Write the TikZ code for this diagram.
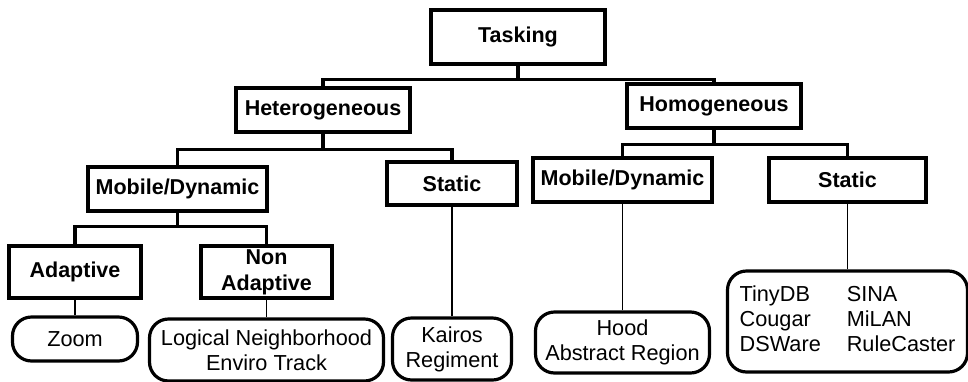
\documentclass[tikz,border=0pt]{standalone}
\usepackage{fontspec}
\setmainfont{Liberation Sans}

\begin{document}
\begin{tikzpicture}[x=1pt,y=-1pt]
  \tikzstyle{boite}=[draw, line width=3.2pt, inner sep=0, align=center, font=\fontsize{21.5}{26}\selectfont\bfseries];
  \tikzstyle{feuille}=[draw, line width=3.2pt, rounded corners=19pt, inner sep=0, align=center, font=\fontsize{21.7}{25}\selectfont];
  \tikzstyle{branche}=[line width=3.2pt];
  \tikzstyle{tige}=[line width=1.5pt];

  \useasboundingbox (0,0) rectangle (968,381);

  % niveaux du haut
  \node[boite, minimum width=174pt, minimum height=54pt] (tasking) at (518,37) {Tasking};
  \node[boite, minimum width=174pt, minimum height=44pt] (hetero) at (323,110) {Heterogeneous};
  \node[boite, minimum width=174pt, minimum height=44pt] (homo) at (714,106) {Homogeneous};

  \node[boite, minimum width=179pt, minimum height=44pt] (mobileA) at (177.5,189) {Mobile/Dynamic};
  \node[boite, minimum width=130pt, minimum height=43pt] (staticA) at (452,183.5) {Static};
  \node[boite, minimum width=179pt, minimum height=44pt] (mobileB) at (622.5,180) {Mobile/Dynamic};
  \node[boite, minimum width=157pt, minimum height=44pt] (staticB) at (847.5,180) {Static};

  \node[boite, minimum width=132pt, minimum height=52pt] (adapt) at (75,272) {Adaptive};
  \node[boite, minimum width=131pt, minimum height=52pt] (nonadapt) at (266.5,272) {Non\\Adaptive};

  % feuilles
  \node[feuille, minimum width=125pt, minimum height=44pt] (zoom) at (75,339) {Zoom};
  \node[feuille, minimum width=234pt, minimum height=62pt] (logical) at (266.5,350) {Logical Neighborhood\\Enviro Track};
  \node[feuille, minimum width=119pt, minimum height=62pt] (kairos) at (452,349) {Kairos\\Regiment};
  \node[feuille, minimum width=174pt, minimum height=61pt] (hood) at (622.5,342.5) {Hood\\Abstract Region};
  \node[feuille, minimum width=240pt, minimum height=101pt] (tinydb) at (847.5,321.5)
    {\begin{tabular}{@{}l@{\hspace{26pt}}l@{}}
      TinyDB & SINA\\
      Cougar & MiLAN\\
      DSWare & RuleCaster
    \end{tabular}};

  % branches
  \draw[branche] (tasking.south) -- ++(0,14) -| (hetero.north);
  \draw[branche] (tasking.south) -- ++(0,14) -| (homo.north);
  \draw[branche] (hetero.south) -- ++(0,16) -| (mobileA.north);
  \draw[branche] (hetero.south) -- ++(0,16) -| (staticA.north);
  \draw[branche] (homo.south) -- ++(0,15) -| (mobileB.north);
  \draw[branche] (homo.south) -- ++(0,15) -| (staticB.north);
  \draw[branche] (mobileA.south) -- ++(0,14) -| (adapt.north);
  \draw[branche] (mobileA.south) -- ++(0,14) -| (nonadapt.north);

  \draw[tige] (adapt.south) -- (zoom.north);
  \draw[tige] (nonadapt.south) -- (logical.north);
  \draw[tige] (staticA.south) -- (kairos.north);
  \draw[tige] (mobileB.south) -- (hood.north);
  \draw[tige] (staticB.south) -- (tinydb.north);
\end{tikzpicture}
\end{document}
